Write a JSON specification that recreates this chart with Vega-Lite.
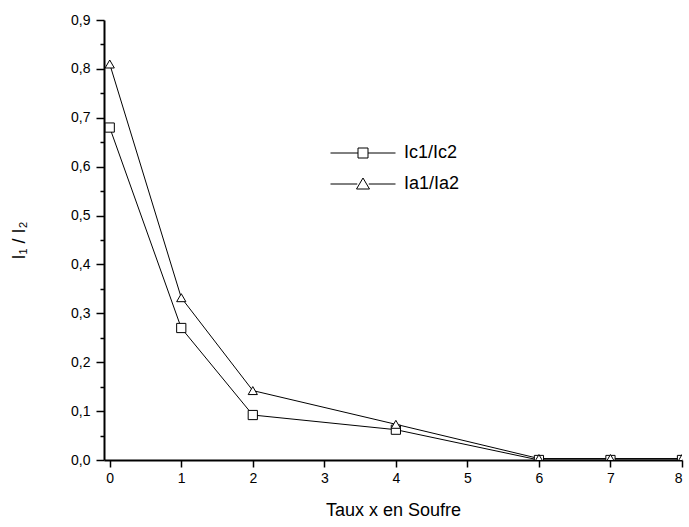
{
  "$schema": "https://vega.github.io/schema/vega-lite/v6.json",
  "width": 578,
  "height": 440,
  "autosize": {"type": "none"},
  "padding": {"left": 104, "top": 20, "right": 7, "bottom": 67},
  "background": "white",
  "config": {
    "view": {"stroke": null},
    "font": "Liberation Sans",
    "axis": {"grid": false, "domainColor": "black", "domainWidth": 2, "tickColor": "black", "tickWidth": 1.5, "labelColor": "black", "titleColor": "black", "labelFont": "Liberation Sans", "titleFont": "Liberation Sans", "titleFontWeight": "normal", "labelFontSize": 14, "titleFontSize": 18}
  },
  "data": {
    "values": [
      {"x": 0, "y": 0.68, "series": "Ic1/Ic2"},
      {"x": 1, "y": 0.27, "series": "Ic1/Ic2"},
      {"x": 2, "y": 0.092, "series": "Ic1/Ic2"},
      {"x": 4, "y": 0.062, "series": "Ic1/Ic2"},
      {"x": 6, "y": 0.0, "series": "Ic1/Ic2"},
      {"x": 7, "y": 0.0, "series": "Ic1/Ic2"},
      {"x": 8, "y": 0.0, "series": "Ic1/Ic2"},
      {"x": 0, "y": 0.81, "series": "Ia1/Ia2"},
      {"x": 1, "y": 0.332, "series": "Ia1/Ia2"},
      {"x": 2, "y": 0.142, "series": "Ia1/Ia2"},
      {"x": 4, "y": 0.073, "series": "Ia1/Ia2"},
      {"x": 6, "y": 0.003, "series": "Ia1/Ia2"},
      {"x": 7, "y": 0.003, "series": "Ia1/Ia2"},
      {"x": 8, "y": 0.003, "series": "Ia1/Ia2"}
    ]
  },
  "resolve": {"axis": {"y": "independent"}, "scale": {"shape": "independent"}, "legend": {"shape": "independent"}},
  "layer": [
    {
      "mark": {"type": "line", "color": "black", "strokeWidth": 1},
      "encoding": {
        "x": {"field": "x", "type": "quantitative", "scale": {"domain": [-0.08, 8], "nice": false, "zero": false},
              "axis": {"values": [0,1,2,3,4,5,6,7,8], "format": "d", "tickSize": 7, "labelPadding": 4, "title": "Taux x en Soufre", "titlePadding": 16}},
        "y": {"field": "y", "type": "quantitative", "scale": {"domain": [0, 0.9], "nice": false},
              "axis": {"values": [0,0.1,0.2,0.3,0.4,0.5,0.6,0.7,0.8,0.9], "tickSize": 8, "labelPadding": 6,
                       "labelExpr": "replace(format(datum.value, '.1f'), '.', ',')", "title": "I₁ / I₂", "titlePadding": 42}},
        "detail": {"field": "series"}
      }
    },
    {
      "mark": {"type": "point", "filled": true, "fill": "white", "stroke": "black", "strokeWidth": 1, "opacity": 1, "size": 85, "clip": true},
      "encoding": {
        "x": {"field": "x", "type": "quantitative"},
        "y": {"field": "y", "type": "quantitative",
              "axis": {"values": [0.05,0.15,0.25,0.35,0.45,0.55,0.65,0.75,0.85], "tickSize": 4, "labels": false, "domain": false, "title": null, "orient": "left"}},
        "shape": {"field": "series", "type": "nominal",
                  "scale": {"domain": ["Ic1/Ic2", "Ia1/Ia2"], "range": ["square", "triangle-up"]},
                  "legend": null}
      }
    },
    {
      "mark": {"type": "point", "filled": false, "color": "black", "strokeWidth": 1, "opacity": 0, "size": 100},
      "encoding": {
        "x": {"field": "x", "type": "quantitative"},
        "y": {"field": "y", "type": "quantitative", "axis": null},
        "shape": {"field": "series", "type": "nominal",
                  "scale": {"domain": ["Ic1/Ic2", "Ia1/Ia2"],
                            "range": ["M-6.5,0H-1M1,0H6.5M-1,-1H1V1H-1Z", "M-6.5,0H-1.15M1.15,0H6.5M0,-1.2L1.3,1H-1.3Z"]},
                  "legend": {"title": null, "orient": "none", "legendX": 250, "legendY": 124,
                             "symbolSize": 100, "symbolStrokeColor": "black", "symbolFillColor": "transparent", "symbolStrokeWidth": 1, "symbolOpacity": 1,
                             "labelFontSize": 18, "labelFont": "Liberation Sans", "labelColor": "black", "labelOffset": 32, "rowPadding": 13}}
      }
    }
  ]
}
